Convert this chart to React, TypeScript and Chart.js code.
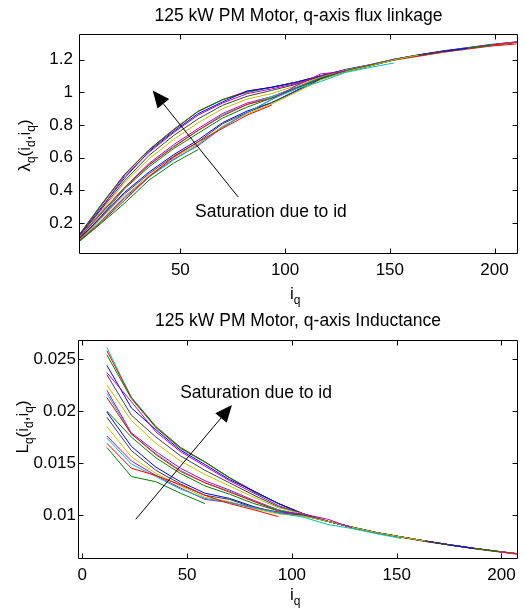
import React, { useEffect, useRef } from 'react';
import { Chart, registerables } from 'chart.js';

Chart.register(...registerables);

const FAMILY = "'Liberation Sans', Arial, Helvetica, sans-serif";

// q-axis current grid (A)
const iqGrid = [11.7, 23.4, 35.1, 46.8, 58.5, 70.2, 81.9, 93.6, 105.3, 117.0, 128.7, 140.4, 152.1, 163.8, 175.5, 187.2, 198.9, 210.6];
const fluxEdgeIq = 1.6;

// q-axis inductance curves (one per id level)
const lq00 = [0.0165, 0.0137, 0.0132, 0.0121, 0.0111];
const lq01 = [0.0169, 0.0145, 0.0138, 0.0129, 0.0119, 0.0111, 0.0105, 0.00984];
const lq02 = [0.0174, 0.0149, 0.0137, 0.0125, 0.0116, 0.0112, 0.0107, 0.0102, 0.0098, 0.0091, 0.0087, 0.0082, 0.00775];
const lq03 = [0.0176, 0.0152, 0.0138, 0.0126, 0.0115, 0.0112, 0.0107, 0.0103, 0.0101, 0.0096, 0.00876];
const lq04 = [0.0185, 0.0156, 0.0140, 0.0128, 0.0117, 0.0113, 0.0106, 0.0101, 0.0099, 0.0094, 0.00882, 0.0083, 0.00789, 0.00749];
const lq05 = [0.0194, 0.0162, 0.0143, 0.0130, 0.0119, 0.0115, 0.0107, 0.0102, 0.00995, 0.0094, 0.00882, 0.0083, 0.00789, 0.00749, 0.00712];
const lq06 = [0.0199, 0.0166, 0.0146, 0.0132, 0.0121, 0.0116, 0.0108, 0.0102, 0.00995, 0.0094, 0.00882, 0.0083, 0.00789, 0.00749, 0.00712, 0.00678];
const lq07 = [0.0200, 0.0175, 0.0155, 0.0140, 0.0128, 0.0120, 0.0111, 0.0104, 0.0100, 0.0094, 0.00882, 0.0083, 0.00789, 0.00749, 0.00712, 0.00678, 0.00648];
const lq08 = [0.0213, 0.0178, 0.0158, 0.0142, 0.0131, 0.0122, 0.0113, 0.0104, 0.0100, 0.0094, 0.00882, 0.0083, 0.00789, 0.00749, 0.00712, 0.00678, 0.00648, 0.0062];
const lq09 = [0.0217, 0.0178, 0.0159, 0.0143, 0.0131, 0.0123, 0.0113, 0.0105, 0.0100, 0.0094, 0.00882, 0.0083, 0.00789, 0.00749, 0.00712, 0.00678, 0.00648, 0.0062];
const lq10 = [0.0220, 0.0179, 0.0161, 0.0145, 0.0133, 0.0124, 0.0114, 0.0105, 0.0100, 0.0094, 0.00882, 0.0083, 0.00789, 0.00749, 0.00712, 0.00678, 0.00648, 0.0062];
const lq11 = [0.0225, 0.0191, 0.0169, 0.0152, 0.0139, 0.0128, 0.0117, 0.0107, 0.0101, 0.0094, 0.00882, 0.0083, 0.00789, 0.00749, 0.00712, 0.00678, 0.00648, 0.0062];
const lq12 = [0.0235, 0.0196, 0.0175, 0.0157, 0.0143, 0.0131, 0.0119, 0.0108, 0.0101, 0.0094, 0.00882, 0.0083, 0.00789, 0.00749, 0.00712, 0.00678, 0.00648, 0.0062];
const lq13 = [0.0237, 0.0209, 0.0180, 0.0161, 0.0147, 0.0133, 0.0121, 0.0109, 0.0101, 0.0094, 0.00882, 0.0083, 0.00789, 0.00749, 0.00712, 0.00678, 0.00648, 0.0062];
const lq14 = [0.0244, 0.0203, 0.0182, 0.01624, 0.01486, 0.01341, 0.0123, 0.0111, 0.01012, 0.0094, 0.00885, 0.00832, 0.0079, 0.0075, 0.00714, 0.0068, 0.0065, 0.00621];
const lq15 = [0.0254, 0.0212, 0.0184, 0.0164, 0.0151, 0.0136, 0.0122, 0.0111, 0.01012, 0.0094, 0.00882, 0.0083, 0.00789, 0.00749, 0.00712, 0.00678, 0.00648, 0.0062];
const lq16 = [0.0258, 0.0213, 0.0185, 0.0165, 0.0151, 0.0136, 0.0123, 0.0111, 0.01012, 0.0094, 0.0088, 0.00828, 0.00786, 0.00745, 0.00709, 0.00675, 0.00645, 0.00615];
const lq17 = [0.0261, 0.0213, 0.0185, 0.0165, 0.0151, 0.01357, 0.01226, 0.0111, 0.01015, 0.0094, 0.00882, 0.0083, 0.00789, 0.00749, 0.00712, 0.00678, 0.00648, 0.0062];

// q-axis flux linkage curves (first value at the left edge iq)
const lam00 = [0.085, 0.193, 0.321, 0.463, 0.566, 0.649];
const lam01 = [0.087, 0.198, 0.339, 0.484, 0.604, 0.696, 0.779, 0.860, 0.921];
const lam02 = [0.089, 0.204, 0.349, 0.481, 0.585, 0.679, 0.786, 0.876, 0.955, 1.020, 1.065, 1.120, 1.151, 1.179];
const lam03 = [0.090, 0.206, 0.356, 0.484, 0.590, 0.673, 0.786, 0.876, 0.955, 1.040, 1.112, 1.127];
const lam04 = [0.094, 0.216, 0.365, 0.491, 0.599, 0.684, 0.793, 0.868, 0.927, 1.000, 1.075, 1.126, 1.160, 1.198, 1.227];
const lam05 = [0.097, 0.227, 0.379, 0.502, 0.608, 0.696, 0.807, 0.876, 0.936, 1.005, 1.078, 1.126, 1.160, 1.198, 1.227, 1.250];
const lam06 = [0.099, 0.233, 0.388, 0.512, 0.618, 0.708, 0.814, 0.885, 0.936, 1.010, 1.080, 1.126, 1.160, 1.198, 1.227, 1.250, 1.269];
const lam07 = [0.100, 0.234, 0.410, 0.544, 0.655, 0.749, 0.842, 0.909, 0.964, 1.022, 1.085, 1.130, 1.163, 1.200, 1.227, 1.250, 1.269, 1.289];
const lam08 = [0.106, 0.249, 0.417, 0.555, 0.665, 0.766, 0.856, 0.925, 0.964, 1.024, 1.085, 1.130, 1.163, 1.200, 1.227, 1.250, 1.269, 1.289, 1.306];
const lam09 = [0.108, 0.254, 0.417, 0.558, 0.669, 0.766, 0.863, 0.925, 0.973, 1.028, 1.088, 1.130, 1.163, 1.200, 1.227, 1.250, 1.269, 1.289, 1.306];
const lam10 = [0.109, 0.257, 0.419, 0.565, 0.679, 0.778, 0.870, 0.934, 0.973, 1.030, 1.088, 1.130, 1.163, 1.200, 1.227, 1.250, 1.269, 1.289, 1.306];
const lam11 = [0.111, 0.263, 0.447, 0.593, 0.711, 0.813, 0.899, 0.958, 0.992, 1.040, 1.092, 1.135, 1.165, 1.200, 1.227, 1.250, 1.269, 1.289, 1.306];
const lam12 = [0.116, 0.275, 0.459, 0.614, 0.735, 0.837, 0.920, 0.975, 1.011, 1.048, 1.096, 1.135, 1.165, 1.200, 1.227, 1.250, 1.269, 1.289, 1.306];
const lam13 = [0.117, 0.277, 0.489, 0.632, 0.753, 0.860, 0.934, 0.991, 1.020, 1.053, 1.098, 1.135, 1.165, 1.200, 1.227, 1.250, 1.269, 1.289, 1.306];
const lam14 = [0.120, 0.285, 0.475, 0.639, 0.760, 0.869, 0.941, 1.007, 1.030, 1.060, 1.100, 1.139, 1.168, 1.202, 1.229, 1.253, 1.273, 1.293, 1.308];
const lam15 = [0.124, 0.297, 0.496, 0.646, 0.768, 0.883, 0.955, 0.999, 1.030, 1.062, 1.100, 1.135, 1.165, 1.200, 1.227, 1.250, 1.269, 1.289, 1.306];
const lam16 = [0.126, 0.302, 0.498, 0.649, 0.772, 0.883, 0.955, 1.007, 1.030, 1.062, 1.100, 1.133, 1.163, 1.196, 1.220, 1.244, 1.264, 1.283, 1.295];
const lam17 = [0.127, 0.305, 0.498, 0.649, 0.772, 0.883, 0.953, 1.004, 1.030, 1.060, 1.100, 1.135, 1.165, 1.200, 1.227, 1.250, 1.269, 1.289, 1.306];

const lqSeries = [lq00, lq01, lq02, lq03, lq04, lq05, lq06, lq07, lq08, lq09, lq10, lq11, lq12, lq13, lq14, lq15, lq16, lq17];
const lambdaSeries = [lam00, lam01, lam02, lam03, lam04, lam05, lam06, lam07, lam08, lam09, lam10, lam11, lam12, lam13, lam14, lam15, lam16, lam17];

const curveColors = ['#008000', '#ff0000', '#00bfbf', '#bf00bf', '#bfbf00', '#404040', '#0000ff', '#008000', '#ff0000', '#00bfbf', '#bf00bf', '#bfbf00', '#404040', '#bf00bf', '#0000ff', '#008000', '#ff0000', '#00bfbf'];

const topXTicks = [50, 100, 150, 200];
const topYTicks = [0.2, 0.4, 0.6, 0.8, 1, 1.2];
const botXTicks = [0, 50, 100, 150, 200];
const botYTicks = [0.01, 0.015, 0.02, 0.025];

const topTitle = '125 kW PM Motor, q-axis flux linkage';
const botTitle = '125 kW PM Motor, q-axis Inductance';
const annotationText = 'Saturation due to id';

// arrow annotations in data coordinates: [tailX, tailY, tipX, tipY, textX, textY]
const topArrow = [77.6, 0.359, 36.8, 1.01, 57.0, 0.266];
const botArrow = [25.5, 0.00959, 71.4, 0.02058, 46.7, 0.0217];

type Seg = [string, boolean];
const xTitleSegs: Seg[] = [['i', false], ['q', true]];
const topYTitleSegs: Seg[] = [['λ', false], ['q', true], ['(', false], ['i', false], ['d', true], [',', false], ['i', false], ['q', true], [')', false]];
const botYTitleSegs: Seg[] = [['L', false], ['q', true], ['(', false], ['i', false], ['d', true], [',', false], ['i', false], ['q', true], [')', false]];

function drawRich(ctx: CanvasRenderingContext2D, segs: Seg[], x: number, y: number, rotate: boolean, align: 'left' | 'center', subShift: number) {
  ctx.save();
  ctx.translate(x, y);
  if (rotate) ctx.rotate(-Math.PI / 2);
  ctx.textBaseline = 'alphabetic';
  ctx.textAlign = 'left';
  ctx.fillStyle = '#000';
  let total = 0;
  for (const [t, sub] of segs) {
    ctx.font = `${sub ? 12 : 17}px ${FAMILY}`;
    total += ctx.measureText(t).width;
  }
  let cx = align === 'center' ? -total / 2 : 0;
  for (const [t, sub] of segs) {
    ctx.font = `${sub ? 12 : 17}px ${FAMILY}`;
    ctx.fillText(t, cx, sub ? subShift : 0);
    cx += ctx.measureText(t).width;
  }
  ctx.restore();
}

type FrameCfg = {
  xTicks: number[];
  yTicks: number[];
  xTitle: [number, number];
  yTitle: [number, number];
  yTitleSegs: Seg[];
  arrow: number[];
};

function framePlugin(cfg: FrameCfg) {
  return {
    id: 'matlabFrame',
    afterDraw(chart: any) {
      const ctx: CanvasRenderingContext2D = chart.ctx;
      const { left, right, top, bottom } = chart.chartArea;
      const xs = chart.scales.x;
      const ys = chart.scales.y;
      const L = Math.round(left) + 0.5;
      const R = Math.round(right) - 0.5;
      const T = Math.round(top) + 0.5;
      const B = Math.round(bottom) - 0.5;
      ctx.save();
      ctx.strokeStyle = '#000';
      ctx.lineWidth = 1;
      ctx.beginPath();
      ctx.rect(L, T, R - L, B - T);
      ctx.stroke();
      const tl = 5;
      ctx.beginPath();
      for (const v of cfg.xTicks) {
        const px = Math.round(xs.getPixelForValue(v)) + 0.5;
        if (px < L || px > R) continue;
        ctx.moveTo(px, B); ctx.lineTo(px, B - tl);
        ctx.moveTo(px, T); ctx.lineTo(px, T + tl);
      }
      for (const v of cfg.yTicks) {
        const py = Math.round(ys.getPixelForValue(v)) + 0.5;
        ctx.moveTo(L, py); ctx.lineTo(L + tl, py);
        ctx.moveTo(R, py); ctx.lineTo(R - tl, py);
      }
      ctx.stroke();

      // arrow annotation
      const [tx, ty, hx, hy, lx, ly] = cfg.arrow;
      const x0 = xs.getPixelForValue(tx), y0 = ys.getPixelForValue(ty);
      const x1 = xs.getPixelForValue(hx), y1 = ys.getPixelForValue(hy);
      const dx = x0 - x1, dy = y0 - y1;
      const len = Math.hypot(dx, dy);
      const ux = dx / len, uy = dy / len;
      const headLen = 17, headW = 7.5;
      const bx = x1 + ux * headLen, by = y1 + uy * headLen;
      ctx.beginPath();
      ctx.moveTo(x0, y0);
      ctx.lineTo(bx, by);
      ctx.stroke();
      ctx.fillStyle = '#000';
      ctx.beginPath();
      ctx.moveTo(x1, y1);
      ctx.lineTo(bx - uy * headW, by + ux * headW);
      ctx.lineTo(bx + uy * headW, by - ux * headW);
      ctx.closePath();
      ctx.fill();

      ctx.font = `17.5px ${FAMILY}`;
      ctx.textAlign = 'left';
      ctx.textBaseline = 'middle';
      ctx.fillText(annotationText, xs.getPixelForValue(lx), ys.getPixelForValue(ly));
      ctx.restore();

      drawRich(ctx, xTitleSegs, cfg.xTitle[0], cfg.xTitle[1], false, 'left', 4.5);
      drawRich(ctx, cfg.yTitleSegs, cfg.yTitle[0], cfg.yTitle[1], true, 'center', 5);
    },
  };
}

function makeConfig(opts: {
  series: number[][];
  xOf: (i: number) => number;
  xMin: number; xMax: number; yMin: number; yMax: number;
  xTicks: number[]; yTicks: number[];
  title: string; titlePad: { top: number; bottom: number };
  yWidth: number; xHeight: number; yPad: number;
  frame: FrameCfg;
}): any {
  const datasets = opts.series.map((vals, si) => ({
    data: vals.map((v, i) => ({ x: opts.xOf(i), y: v })),
    borderColor: curveColors[si],
    borderWidth: 1,
    pointRadius: 0,
    fill: false,
    tension: 0,
  }));
  const fmt = (v: any) => String(Number(Number(v).toFixed(4)));
  return {
    type: 'line',
    data: { datasets },
    options: {
      animation: false,
      responsive: false,
      maintainAspectRatio: false,
      layout: { padding: { left: 0, right: 7, top: 0, bottom: 0 } },
      plugins: {
        legend: { display: false },
        tooltip: { enabled: false },
        title: {
          display: true,
          fullSize: false,
          text: opts.title,
          color: '#000',
          font: { family: FAMILY, size: 17.5, weight: 'normal' },
          padding: opts.titlePad,
        },
      },
      scales: {
        x: {
          type: 'linear',
          min: opts.xMin,
          max: opts.xMax,
          afterBuildTicks: (s: any) => { s.ticks = opts.xTicks.map((v) => ({ value: v })); },
          afterFit: (s: any) => { s.height = opts.xHeight; },
          ticks: { color: '#000', font: { family: FAMILY, size: 17 }, padding: 6, maxRotation: 0, autoSkip: false, callback: fmt },
          grid: { display: false, drawTicks: false },
          border: { display: false },
        },
        y: {
          type: 'linear',
          min: opts.yMin,
          max: opts.yMax,
          afterBuildTicks: (s: any) => { s.ticks = opts.yTicks.map((v) => ({ value: v })); },
          afterFit: (s: any) => { s.width = opts.yWidth; },
          ticks: { color: '#000', font: { family: FAMILY, size: 17 }, padding: opts.yPad, autoSkip: false, callback: fmt },
          grid: { display: false, drawTicks: false },
          border: { display: false },
        },
      },
    },
    plugins: [framePlugin(opts.frame)],
  };
}

export default function App() {
  const topRef = useRef<HTMLCanvasElement>(null);
  const botRef = useRef<HTMLCanvasElement>(null);

  useEffect(() => {
    const topChart = new Chart(topRef.current as HTMLCanvasElement, makeConfig({
      series: lambdaSeries,
      xOf: (i) => (i === 0 ? fluxEdgeIq : iqGrid[i - 1]),
      xMin: 1.6, xMax: 211.2, yMin: 0.0102, yMax: 1.356,
      xTicks: topXTicks, yTicks: topYTicks,
      title: topTitle, titlePad: { top: 6, bottom: 7 },
      yWidth: 79, xHeight: 61, yPad: 6,
      frame: { xTicks: topXTicks, yTicks: topYTicks, xTitle: [290, 299], yTitle: [30, 145.5], yTitleSegs: topYTitleSegs, arrow: topArrow },
    }));
    const botChart = new Chart(botRef.current as HTMLCanvasElement, makeConfig({
      series: lqSeries,
      xOf: (i) => iqGrid[i],
      xMin: -2.06, xMax: 207.9, yMin: 0.00577, yMax: 0.02683,
      xTicks: botXTicks, yTicks: botYTicks,
      title: botTitle, titlePad: { top: 11, bottom: 8 },
      yWidth: 78, xHeight: 52, yPad: 2,
      frame: { xTicks: botXTicks, yTicks: botYTicks, xTitle: [290, 300], yTitle: [28, 127], yTitleSegs: botYTitleSegs, arrow: botArrow },
    }));
    return () => { topChart.destroy(); botChart.destroy(); };
  }, []);

  return (
    <div style={{ position: 'absolute', left: 0, top: 0, width: 525, height: 611, background: '#fff', overflow: 'hidden' }}>
      <canvas ref={topRef} width={525} height={315} style={{ position: 'absolute', left: 0, top: 0, width: 525, height: 315 }} />
      <canvas ref={botRef} width={525} height={311} style={{ position: 'absolute', left: 0, top: 300, width: 525, height: 311 }} />
    </div>
  );
}
